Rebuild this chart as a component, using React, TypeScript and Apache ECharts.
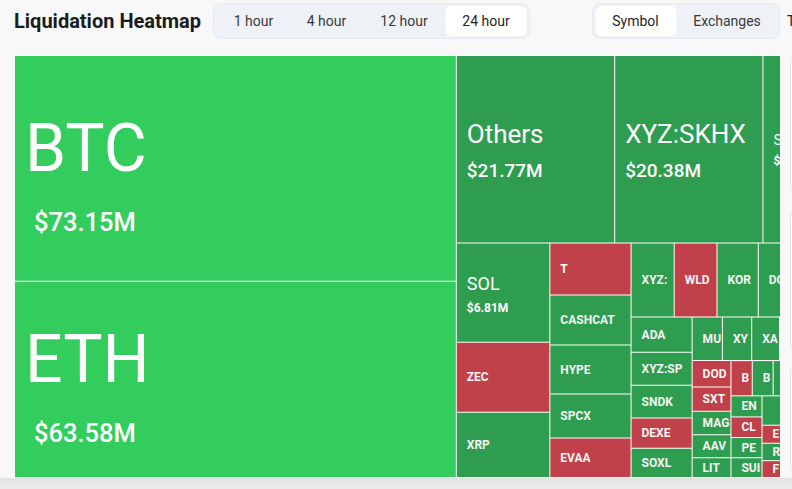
import React, { useEffect, useRef } from 'react';
import * as echarts from 'echarts';

// Liquidations in the last 24 hours, by symbol ($M)
const symbols = [
  'BTC', 'ETH', 'Others', 'XYZ:SKHX', 'SILVER', 'SOL', 'ZEC', 'XRP',
  'T', 'CASHCAT', 'HYPE', 'SPCX', 'EVAA',
  'XYZ:DRAM', 'WLD', 'KORU', 'DOGE', 'LINK',
  'ADA', 'XYZ:SPCX', 'SNDK', 'DEXE', 'SOXL',
  'MU', 'XYZ:GOLD', 'XAUT', 'PUMP', 'AVAX',
  'DODO', 'SXT', 'MAGIC', 'AAVE', 'LIT',
  'BIO', 'BCH', 'LTC', 'TAO', 'UNI',
  'ENA', 'CL', 'PEPE', 'SUI',
  'XPL', 'ASTER', 'TRUMP', 'ZORA',
  'ETC', 'RIVER', 'FARTCOIN',
  'NEAR', 'APT', 'ARB', 'OP', 'ONDO', 'WIF', 'HBAR', 'DOT', 'TON', 'FET', 'INJ', 'SEI', 'TIA',
];
const liquidations = [
  73.15, 63.58, 21.77, 20.38, 9.7, 6.81, 4.81, 4.47,
  3.1, 2.98, 2.92, 2.62, 2.35,
  2.34, 2.32, 2.24, 2.05, 2.03,
  1.58, 1.48, 1.47, 1.35, 1.31,
  0.97, 0.94, 0.89, 0.87, 0.86,
  0.75, 0.69, 0.67, 0.66, 0.56,
  0.55, 0.54, 0.53, 0.52, 0.51,
  0.48, 0.47, 0.46, 0.45,
  0.42, 0.4, 0.37, 0.35,
  0.3, 0.29, 0.28,
  0.27, 0.25, 0.22, 0.2, 0.18, 0.16, 0.14, 0.12, 0.1, 0.08, 0.06, 0.05, 0.04,
];
// dominant liquidated side
const dominantSide = [
  'long', 'long', 'long', 'long', 'long', 'long', 'short', 'long',
  'short', 'long', 'long', 'long', 'short',
  'long', 'short', 'long', 'long', 'long',
  'long', 'long', 'long', 'short', 'long',
  'long', 'long', 'long', 'long', 'long',
  'short', 'short', 'long', 'long', 'long',
  'short', 'long', 'long', 'long', 'long',
  'long', 'short', 'long', 'long',
  'long', 'long', 'long', 'long',
  'short', 'long', 'short',
  'long', 'long', 'short', 'long', 'long', 'long', 'short', 'long', 'long', 'long', 'long', 'long', 'long',
];

const timeframes = ['1 hour', '4 hour', '12 hour', '24 hour'];
const activeTimeframe = '24 hour';
const groupings = ['Symbol', 'Exchanges'];
const activeGrouping = 'Symbol';

const FONT = 'Roboto, "Noto Sans", "DejaVu Sans", sans-serif';

function tier(v: number): string {
  if (v >= 50) return 'a';
  if (v >= 15) return 'b';
  if (v >= 8) return 'c';
  if (v >= 5) return 'd';
  return 'e';
}
const blockHeight: Record<string, number> = { a: 147, b: 72, c: 41, d: 48, e: 14 };

export default function App() {
  const ref = useRef<HTMLDivElement>(null);

  useEffect(() => {
    const chart = echarts.init(ref.current as HTMLDivElement, null, { renderer: 'svg' });

    const data = symbols.map((name, i) => {
      const v = liquidations[i];
      const short = dominantSide[i] === 'short';
      const color = short ? '#c1414b' : v >= 50 ? '#33cd5d' : '#2e9d4f';
      return { name, value: v, itemStyle: { color } };
    });

    const tfCenters = [253.5, 326.5, 404, 486];
    const grCenters = [635.5, 727];

    const graphic: any[] = [
      {
        type: 'text', x: 14, y: 21, z: 20,
        style: { text: 'Liquidation Heatmap', fontFamily: FONT, fontSize: 20, fontWeight: 'bold', fill: '#1b1c1f', align: 'left', verticalAlign: 'middle' },
      },
      { type: 'rect', z: 20, shape: { x: 213.5, y: 3.5, width: 316, height: 35, r: 8 }, style: { fill: '#eef1f5', stroke: '#e6e9ee', lineWidth: 1 } },
      { type: 'rect', z: 21, shape: { x: 445.5, y: 6, width: 81, height: 30, r: 6 }, style: { fill: '#ffffff' } },
      { type: 'rect', z: 20, shape: { x: 592.5, y: 3.5, width: 187, height: 35, r: 8 }, style: { fill: '#eef1f5', stroke: '#e6e9ee', lineWidth: 1 } },
      { type: 'rect', z: 21, shape: { x: 595.5, y: 6, width: 81, height: 30, r: 6 }, style: { fill: '#ffffff' } },
      {
        type: 'text', x: 787, y: 21, z: 20,
        style: { text: 'T', fontFamily: FONT, fontSize: 14, fill: '#222', align: 'left', verticalAlign: 'middle' },
      },
      // clip of the wide heatmap at the right edge, side panels and bottom band
      { type: 'rect', z: 30, shape: { x: 780, y: 42, width: 12, height: 447 }, style: { fill: '#f8f8f8' } },
      { type: 'rect', z: 31, shape: { x: 790.5, y: 55.5, width: 30, height: 138, r: 6 }, style: { fill: '#fdfdfd', stroke: '#e3e3e3', lineWidth: 1 } },
      { type: 'rect', z: 31, shape: { x: 790.5, y: 210.5, width: 30, height: 140, r: 6 }, style: { fill: '#fdfdfd', stroke: '#e3e3e3', lineWidth: 1 } },
      { type: 'rect', z: 31, shape: { x: 790.5, y: 365.5, width: 30, height: 106, r: 6 }, style: { fill: '#fdfdfd', stroke: '#e3e3e3', lineWidth: 1 } },
      {
        type: 'rect', z: 32, shape: { x: 0, y: 478, width: 792, height: 11 },
        style: {
          fill: new echarts.graphic.LinearGradient(0, 0, 0, 1, [
            { offset: 0, color: '#e2e2e2' },
            { offset: 1, color: '#ececec' },
          ]),
        },
      },
    ];
    timeframes.forEach((t, i) => {
      graphic.push({
        type: 'text', x: tfCenters[i], y: 21, z: 22,
        style: { text: t, fontFamily: FONT, fontSize: 14, fill: t === activeTimeframe ? '#1f1f1f' : '#3a3a3a', align: 'center', verticalAlign: 'middle' },
      });
    });
    groupings.forEach((g, i) => {
      graphic.push({
        type: 'text', x: grCenters[i], y: 21, z: 22,
        style: { text: g, fontFamily: FONT, fontSize: 14, fill: g === activeGrouping ? '#1f1f1f' : '#3a3a3a', align: 'center', verticalAlign: 'middle' },
      });
    });

    chart.setOption({
      animation: false,
      backgroundColor: '#f8f8f8',
      graphic,
      series: [
        {
          type: 'treemap',
          left: 15,
          top: 56,
          width: 818,
          height: 421,
          roam: false,
          nodeClick: false,
          silent: true,
          breadcrumb: { show: false },
          itemStyle: { borderWidth: 0, gapWidth: 1, borderColor: '#ffffff' },
          upperLabel: { show: false },
          label: {
            show: true,
            position: 'insideLeft',
            distance: 0,
            padding: [0, 0, 0, 10],
            color: '#ffffff',
            fontFamily: FONT,
            overflow: 'truncate',
            ellipsis: '',
            formatter: (p: any) => {
              const t = tier(p.value);
              if (t === 'e') return `{e|${p.name}}`;
              return `{${t}n|${p.name}}\n{${t}v|$${p.value.toFixed(2)}M}`;
            },
            rich: {
              an: { fontSize: 66, lineHeight: 108, fontFamily: FONT, color: '#fff' },
              av: { fontSize: 25.5, lineHeight: 39, fontFamily: FONT, color: '#fff', fontWeight: 500, padding: [0, 0, 0, 9] },
              bn: { fontSize: 26, lineHeight: 42, fontFamily: FONT, color: '#fff' },
              bv: { fontSize: 19, lineHeight: 30, fontFamily: FONT, color: '#fff', fontWeight: 500 },
              cn: { fontSize: 15, lineHeight: 23, fontFamily: FONT, color: '#fff' },
              cv: { fontSize: 12, lineHeight: 18, fontFamily: FONT, color: '#fff', fontWeight: 'bold' },
              dn: { fontSize: 18, lineHeight: 30, fontFamily: FONT, color: '#fff' },
              dv: { fontSize: 12, lineHeight: 18, fontFamily: FONT, color: '#fff', fontWeight: 'bold' },
              e: { fontSize: 12, lineHeight: 14, fontFamily: FONT, color: '#f4f4f4', fontWeight: 'bold' },
            },
          },
          labelLayout: (params: any) => {
            const txt: string = params.text || '';
            const h = blockHeight[txt.charAt(1)] ?? 14;
            const rh = params.rect ? params.rect.height : 0;
            return { dy: Math.max((rh - h) / 2, 0) };
          },
          data,
        },
      ],
    });

    return () => chart.dispose();
  }, []);

  return <div ref={ref} style={{ position: 'fixed', left: 0, top: 0, width: 792, height: 489 }} />;
}
